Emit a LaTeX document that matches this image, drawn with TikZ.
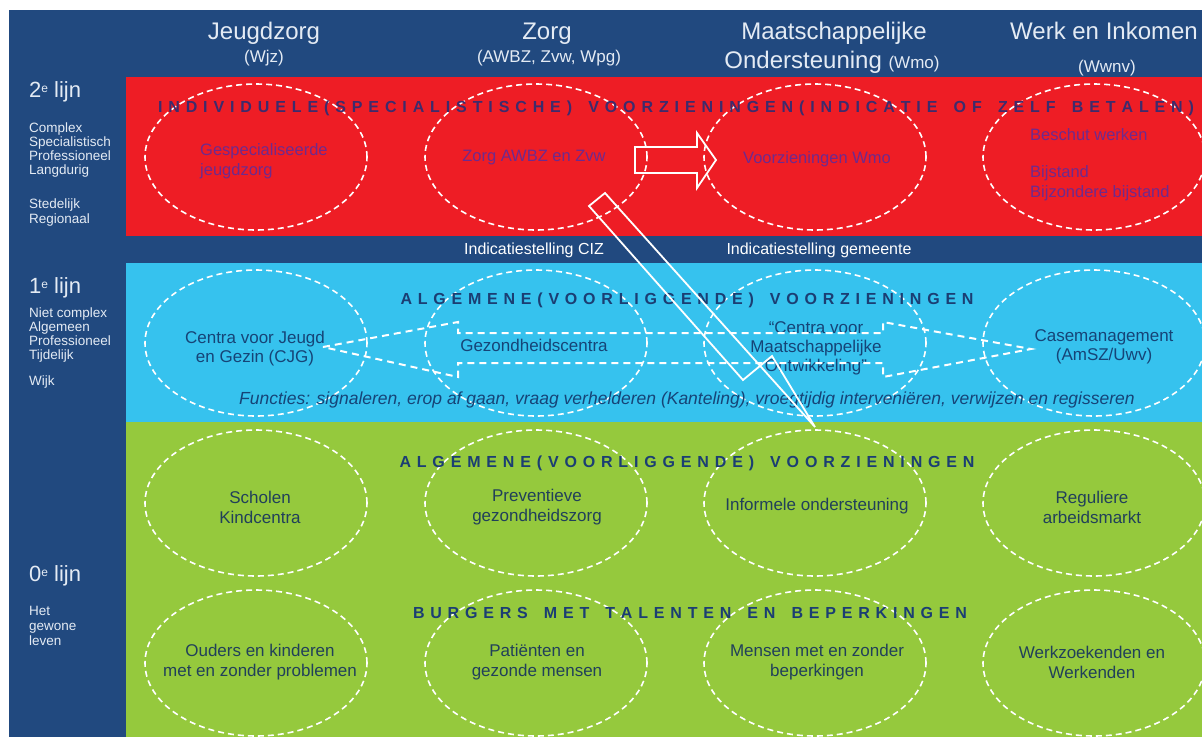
\documentclass[tikz,border=0pt]{standalone}
\usepackage{fontspec}
\setmainfont{Liberation Sans}
\usetikzlibrary{shapes.geometric}
\definecolor{navy}{HTML}{21497F}
\definecolor{redband}{HTML}{EE1D25}
\definecolor{blueband}{HTML}{36C2EE}
\definecolor{greenband}{HTML}{95C93D}
\definecolor{hdrcol}{HTML}{E4EBF4}
\definecolor{purp}{HTML}{6E2A8E}
\definecolor{titlered}{HTML}{3E2B6C}
\definecolor{titleblue}{HTML}{1B3E73}
\definecolor{bluetxt}{HTML}{164477}
\definecolor{greentxt}{HTML}{21405A}
\newcommand\fs[2]{\fontsize{#1}{#2}\selectfont}
\newcommand\supe{\raisebox{5pt}{\fs{12}{14}e}}
\ExplSyntaxOn
\NewDocumentCommand\spread{mm}{\makebox[#1][s]{\tl_map_inline:nn{#2}{##1\hfil}\unskip}}
\ExplSyntaxOff
\begin{document}
\begin{tikzpicture}[x=1pt,y=-1pt,
  oval/.style={ellipse, draw=white, line width=1.6pt, dash pattern=on 6pt off 4pt,
    minimum width=222pt, minimum height=146pt, inner sep=0pt},
  hdr/.style={font=\fs{24}{28}, text=hdrcol, inner sep=0pt, anchor=base},
  hdrs/.style={font=\fs{17}{20}, text=hdrcol, inner sep=0pt, anchor=base},
  lijn/.style={font=\fs{22}{26}, text=hdrcol, inner sep=0pt, anchor=base west},
  side/.style={font=\fs{13.5}{15}, text=hdrcol, inner sep=0pt, anchor=base west},
  title/.style={font=\fs{16}{18}\bfseries, inner sep=0pt},
  redtxt/.style={font=\fs{16.5}{19.5}, text=purp, inner sep=0pt, align=left},
  bluetxt/.style={font=\fs{17}{19}, text=bluetxt, inner sep=0pt, align=center},
  greentxt/.style={font=\fs{17}{20}, text=greentxt, inner sep=0pt, align=center},
  strip/.style={font=\fs{16}{18}, text=white, inner sep=0pt},
  blockarrow/.style={draw=white, line width=1.8pt, line join=miter},
  dashbow/.style={draw=white, line width=2pt, dash pattern=on 7pt off 5pt}
]
\useasboundingbox (0,0) rectangle (1202,737);
\fill[white] (0,0) rectangle (1202,737);
\fill[navy] (9,10) rectangle (1202,737);
\fill[redband] (126,77) rectangle (1202,236);
\fill[blueband] (126,263) rectangle (1202,422);
\fill[greenband] (126,422) rectangle (1202,737);

% ellipses
\foreach \r/\y in {r/157, b/343, g/503, h/663}{
  \foreach \c/\x in {1/256, 2/536, 3/815, 4/1094}{
    \node[oval] (e\r\c) at (\x,\y) {};
  }
}

% header
\node[hdr] (hJ) at (264,39) {Jeugdzorg};
\node[hdrs] (hJs) at (264,62) {(Wjz)};
\node[hdr] (hZ) at (547,39) {Zorg};
\node[hdrs] (hZs) at (549,62) {(AWBZ, Zvw, Wpg)};
\node[hdr] (hM) at (834,39) {Maatschappelijke};
\node[hdr] (hM2) at (832,68) {Ondersteuning {\fs{17}{20}(Wmo)}};
\node[hdr] (hW) at (1104,39) {Werk en Inkomen};
\node[hdrs] (hWs) at (1107,72) {(Wwnv)};

% left column
\node[lijn] (l2) at (29,97) {2\supe{} lijn};
\node[side] (l2a) at (29,132) {Complex};
\node[side] (l2b) at (29,146) {Specialistisch};
\node[side] (l2c) at (29,160) {Professioneel};
\node[side] (l2d) at (29,174) {Langdurig};
\node[side] (l2e) at (29,208) {Stedelijk};
\node[side] (l2f) at (29,223) {Regionaal};
\node[lijn] (l1) at (29,293) {1\supe{} lijn};
\node[side] (l1a) at (29,317) {Niet complex};
\node[side] (l1b) at (29,331) {Algemeen};
\node[side] (l1c) at (29,345) {Professioneel};
\node[side] (l1d) at (29,359) {Tijdelijk};
\node[side] (l1e) at (29,385) {Wijk};
\node[lijn] (l0) at (29,581) {0\supe{} lijn};
\node[side] (l0a) at (29,615) {Het};
\node[side] (l0b) at (29,630) {gewone};
\node[side] (l0c) at (29,645) {leven};

% band titles
\node[title, text=titlered] (tR) at (676,108)
  {\spread{1036pt}{INDIVIDUELE(SPECIALISTISCHE){\ }VOORZIENINGEN(INDICATIE{\ }OF{\ }ZELF{\ }BETALEN)}};
\node[title, text=titleblue] (tB) at (687,300)
  {\spread{573pt}{ALGEMENE(VOORLIGGENDE){\ }VOORZIENINGEN}};
\node[title, text=titleblue] (tG) at (687,463)
  {\spread{575pt}{ALGEMENE(VOORLIGGENDE){\ }VOORZIENINGEN}};
\node[title, text=titleblue] (tH) at (690,613)
  {\spread{554pt}{BURGERS{\ }MET{\ }TALENTEN{\ }EN{\ }BEPERKINGEN}};

% red band texts
\node[redtxt, anchor=west] (r1) at (200,161) {Gespecialiseerde\\jeugdzorg};
\node[redtxt] (r2) at (534,158) {Zorg AWBZ en Zvw};
\node[redtxt] (r3) at (817,159) {Voorzieningen Wmo};
\node[redtxt, anchor=west] (r4a) at (1030,135) {Beschut werken};
\node[redtxt, anchor=west] (r4b) at (1030,183) {Bijstand\\Bijzondere bijstand};

% strip
\node[strip] (s1) at (534,250) {Indicatiestelling CIZ};
\node[strip] (s2) at (819,250) {Indicatiestelling gemeente};

% blue band texts
\node[bluetxt] (b1) at (255,349) {Centra voor Jeugd\\en Gezin (CJG)};
\node[bluetxt] (b2) at (534,345) {Gezondheidscentra};
\node[bluetxt] (b3) at (816,348) {“Centra voor\\Maatschappelijke\\Ontwikkeling”};
\node[bluetxt] (b4) at (1104,347) {Casemanagement\\(AmSZ/Uwv)};
\node[bluetxt, font=\fs{17.5}{19}\itshape] (bf) at (687,400)
  {Functies: signaleren, erop af gaan, vraag verhelderen (Kanteling), vroegtijdig interveniëren, verwijzen en regisseren};

% green band texts
\node[greentxt] (g1) at (260,507) {Scholen\\Kindcentra};
\node[greentxt] (g2) at (537,507) {Preventieve\\gezondheidszorg};
\node[greentxt] (g3) at (817,506) {Informele ondersteuning};
\node[greentxt] (g4) at (1092,507) {Reguliere\\arbeidsmarkt};
\node[greentxt] (h1) at (260,662) {Ouders en kinderen\\met en zonder problemen};
\node[greentxt] (h2) at (537,662) {Patiënten en\\gezonde mensen};
\node[greentxt] (h3) at (817,662) {Mensen met en zonder\\beperkingen};
\node[greentxt] (h4) at (1092,662) {Werkzoekenden en\\Werkenden};

% dashed double arrow in blue band
\coordinate (dl) at (323,347);
\coordinate (dr) at (1031,349);
\draw[dashbow] (dl) -- (458,322) -- (458,333) -- (883,333) -- (883,322) -- (dr)
  -- (883,377) -- (883,363) -- (458,363) -- (458,377) -- cycle;

% block arrow in red band
\coordinate (ra) at (635,147);
\coordinate (rt) at (716,160);
\draw[blockarrow] (ra) -- (697,147) -- (697,133) -- (rt) -- (697,188) -- (697,173) -- (635,173) -- cycle;

% long diagonal arrow
\coordinate (dA) at (589,206);
\coordinate (dB) at (605,193);
\coordinate (dT) at (815,427);
\draw[blockarrow] (dA) -- (743,380) -- (772,356) -- (dT) -- (dB) -- cycle;
\end{tikzpicture}
\end{document}
